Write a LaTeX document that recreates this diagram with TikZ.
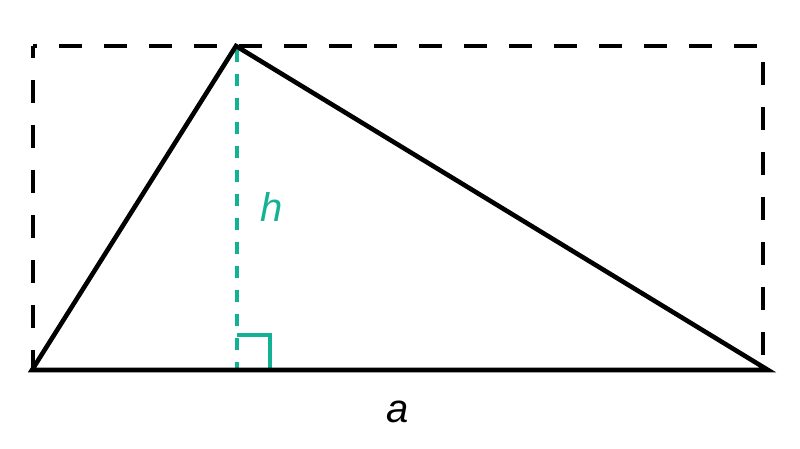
\documentclass[tikz,border=0pt]{standalone}
\usepackage{fontspec}
\setmainfont{Liberation Sans}
\definecolor{heightgreen}{RGB}{20,178,148}
\begin{document}
\begin{tikzpicture}[
    x=1pt, y=-1pt,
    side/.style={line width=4.6pt, line join=miter},
    frame/.style={line width=4.6pt, dash pattern=on 23pt off 22pt, dash phase=11pt},
    altitude/.style={heightgreen, line width=4.6pt, dash pattern=on 12pt off 12pt},
    lbl/.style={font=\fontsize{40}{48}\selectfont\itshape}
]
    \useasboundingbox (0,0) rectangle (800,448);
    % corners of the triangle
    \coordinate (A) at (32,370);
    \coordinate (B) at (768,370);
    \coordinate (C) at (236,46);
    \coordinate (F) at (237,370);
    % dashed enclosing rectangle
    \draw [frame] (33,46) rectangle (763,370);
    % height and right angle mark
    \draw [altitude] (237,50) -- (F);
    \draw [heightgreen, line width=4.6pt] (237,335) -- (270,335) -- (270,370);
    % triangle
    \draw [side] (A) -- (B) -- (C) -- cycle;
    % labels
    \node [lbl, text=heightgreen] (h) at (272,207) {h};
    \node [lbl] (a) at (398,412) {a};
\end{tikzpicture}
\end{document}
